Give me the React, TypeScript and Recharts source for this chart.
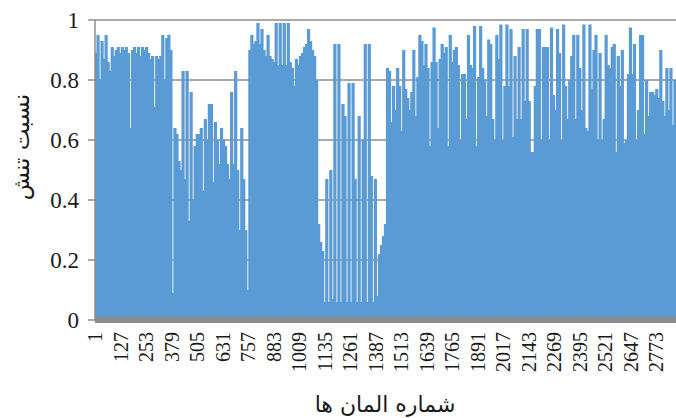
import { Bar, BarChart, CartesianGrid, XAxis, YAxis } from 'recharts'

// element numbers shown on the x axis
const X_TICKS = [
  1, 127, 253, 379, 505, 631, 757, 883, 1009, 1135, 1261, 1387, 1513, 1639,
  1765, 1891, 2017, 2143, 2269, 2395, 2521, 2647, 2773,
]
const Y_TICKS = [0, 0.2, 0.4, 0.6, 0.8, 1]

// each value stands for a run of 10 elements (the plot has ~5 elements per pixel)
const ELEMENTS_PER_BAR = 10
const ELEMENT_COUNT = 2870

// stress ratio left to right
const SEG_A = [
  0.89, 0.95, 0.8, 0.93, 0.87, 0.95, 0.86, 0.83, 0.91, 0.88,
  0.9, 0.91, 0.89, 0.91, 0.9, 0.91, 0.89, 0.64, 0.9, 0.91,
  0.89, 0.91, 0.88, 0.91, 0.9, 0.91, 0.89, 0.87, 0.88, 0.71,
  0.88, 0.87, 0.88, 0.95, 0.8, 0.94, 0.95, 0.9,
]
const SEG_B = [
  0.09, 0.64, 0.62, 0.53, 0.5, 0.83, 0.47, 0.83, 0.33, 0.76,
  0.4, 0.58, 0.62, 0.62, 0.64, 0.43, 0.67, 0.6, 0.72, 0.72,
  0.46, 0.66, 0.6, 0.52, 0.64, 0.6, 0.58, 0.52, 0.47, 0.76,
  0.52, 0.83, 0.5, 0.3, 0.64, 0.47, 0.3, 0.1,
]
const SEG_C = [
  0.9, 0.95, 0.92, 0.93, 0.99, 0.92, 0.97, 0.9, 0.88, 0.95,
  0.88, 0.87, 0.86, 0.99, 0.85, 0.99, 0.85, 0.99, 0.85, 0.99,
  0.86, 0.84, 0.78, 0.87, 0.85, 0.88, 0.89, 0.91, 0.92, 0.97,
  0.93, 0.9, 0.88, 0.8,
]
const SEG_D = [
  0.32, 0.26, 0.23, 0.06, 0.47, 0.06, 0.5, 0.07, 0.92, 0.06,
  0.92, 0.06, 0.72, 0.68, 0.06, 0.79, 0.06, 0.79, 0.47, 0.06,
  0.68, 0.06, 0.6, 0.92, 0.06, 0.92, 0.48, 0.06, 0.47, 0.08,
  0.22, 0.25, 0.28, 0.32,
]
const SEG_E1 = [
  0.84, 0.83, 0.66, 0.78, 0.7, 0.84, 0.78, 0.63, 0.9, 0.77,
  0.74, 0.7, 0.76, 0.9, 0.68, 0.81, 0.95, 0.93, 0.85, 0.92,
  0.84, 0.58, 0.86, 0.975, 0.86, 0.64, 0.87, 0.92, 0.89, 0.91,
  0.58, 0.95, 0.86, 0.9, 0.91, 0.85, 0.6, 0.82, 0.82, 0.67,
  0.95, 0.85, 0.84, 0.98, 0.58, 0.81,
]
const SEG_E2 = [
  0.98, 0.84, 0.8, 0.68, 0.935, 0.92, 0.67, 0.6, 0.95, 0.87,
  0.985, 0.6, 0.78, 0.985, 0.78, 0.97, 0.61, 0.88, 0.67, 0.91,
  0.67, 0.97, 0.73, 0.97, 0.73, 0.56, 0.56, 0.78, 0.97, 0.97,
  0.6, 0.91, 0.91, 0.91, 0.6, 0.975, 0.75, 0.7, 0.97, 0.89,
  0.6, 0.985, 0.78, 0.67, 0.8, 0.88, 0.95, 0.67,
]
const SEG_E3 = [
  0.95, 0.84, 0.7, 0.985, 0.64, 0.63, 0.985, 0.77, 0.9, 0.95,
  0.6, 0.89, 0.6, 0.67, 0.95, 0.85, 0.84, 0.91, 0.92, 0.56,
  0.88, 0.78, 0.9, 0.59, 0.6, 0.82, 0.975, 0.82, 0.92, 0.6,
  0.7, 0.95, 0.95, 0.62, 0.8, 0.68, 0.76, 0.76, 0.75, 0.77,
  0.74, 0.9, 0.73, 0.68, 0.84, 0.7, 0.84, 0.65, 0.8,
]

const RATIOS = [...SEG_A, ...SEG_B, ...SEG_C, ...SEG_D, ...SEG_E1, ...SEG_E2, ...SEG_E3]

const data = RATIOS.map((ratio, i) => ({
  element: i * ELEMENTS_PER_BAR + ELEMENTS_PER_BAR / 2,
  ratio,
}))

const SERIF = '"Liberation Serif", "Times New Roman", serif'
const ARABIC = '"DejaVu Sans", sans-serif'
const AXIS_GRAY = '#8c8c8c'
const BAR_BLUE = '#5b9bd5'

function ElementTick({ x, y, payload }: any) {
  const ty = y + 4
  return (
    <text
      x={x}
      y={ty}
      transform={`rotate(-90, ${x}, ${ty})`}
      textAnchor="end"
      dy="0.35em"
      fontFamily={SERIF}
      fontSize={20}
      fill="#1a1a1a"
    >
      {payload.value}
    </text>
  )
}

function RatioTick({ x, y, payload }: any) {
  return (
    <text
      x={x}
      y={y}
      textAnchor="end"
      dy="0.35em"
      fontFamily={SERIF}
      fontSize={23}
      fill="#1a1a1a"
    >
      {payload.value}
    </text>
  )
}

// bars overlap a little so neighbouring runs don't leave seams
function RunBar({ x, y, width, height }: any) {
  if (!height || height <= 0) return null
  return <rect x={x - 0.6} y={y} width={width + 1.2} height={height} fill={BAR_BLUE} />
}

export default function App() {
  return (
    <div style={{ position: 'relative', width: 676, height: 418, background: '#fff' }}>
      <style>{'body { margin: 0; }'}</style>
      <BarChart
        width={676}
        height={418}
        data={data}
        margin={{ top: 20, right: 0, bottom: 0, left: 0 }}
        barCategoryGap={0}
        barGap={0}
      >
        <CartesianGrid vertical={false} stroke={AXIS_GRAY} strokeWidth={1.5} />
        <XAxis
          type="number"
          dataKey="element"
          domain={[0, ELEMENT_COUNT]}
          ticks={X_TICKS}
          interval={0}
          allowDataOverflow
          tickLine={false}
          axisLine={{ stroke: AXIS_GRAY, strokeWidth: 6 }}
          height={98}
          tick={<ElementTick />}
        />
        <YAxis
          domain={[0, 1]}
          ticks={Y_TICKS}
          width={95}
          tickSize={7}
          tickMargin={9}
          axisLine={{ stroke: AXIS_GRAY, strokeWidth: 1.5 }}
          tickLine={{ stroke: AXIS_GRAY, strokeWidth: 1.5 }}
          tick={<RatioTick />}
        />
        <Bar dataKey="ratio" fill={BAR_BLUE} isAnimationActive={false} shape={<RunBar />} />
      </BarChart>
      <div
        style={{
          position: 'absolute',
          left: 21,
          top: 147,
          transform: 'translate(-50%, -50%) rotate(-90deg)',
          whiteSpace: 'nowrap',
          fontFamily: ARABIC,
          fontSize: 23,
          color: '#1a1a1a',
          direction: 'rtl',
        }}
      >
        نسبت تنش
      </div>
      <div
        style={{
          position: 'absolute',
          left: 385,
          top: 404,
          transform: 'translate(-50%, -50%)',
          whiteSpace: 'nowrap',
          fontFamily: ARABIC,
          fontSize: 22,
          color: '#1a1a1a',
          direction: 'rtl',
        }}
      >
        شماره المان ها
      </div>
    </div>
  )
}
